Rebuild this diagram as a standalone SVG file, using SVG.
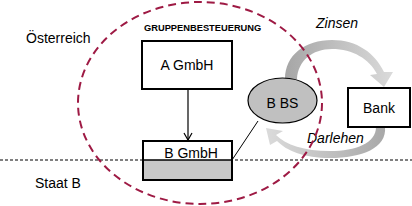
<svg xmlns="http://www.w3.org/2000/svg" width="412" height="206" viewBox="0 0 412 206">
<defs>
<linearGradient id="gTop" x1="285" y1="0" x2="392" y2="0" gradientUnits="userSpaceOnUse">
<stop offset="0" stop-color="#A6A6A6"/><stop offset="1" stop-color="#DADADA"/>
</linearGradient>
<linearGradient id="gBot" x1="264" y1="0" x2="386" y2="0" gradientUnits="userSpaceOnUse">
<stop offset="0" stop-color="#DCDCDC"/><stop offset="1" stop-color="#A8A8A8"/>
</linearGradient>
<marker id="arr" markerWidth="10" markerHeight="10" refX="8" refY="5" orient="auto" markerUnits="userSpaceOnUse">
<path d="M1 1 L8 5 L1 9" fill="none" stroke="#000" stroke-width="1.2"/>
</marker>
</defs>
<style>
text{font-family:"Liberation Sans",Arial,sans-serif;font-size:14px;fill:#000}
.it{font-style:italic}
.box{fill:#fff;stroke:#000;stroke-width:2}
</style>
<rect width="412" height="206" fill="#fff"/>
<line x1="0" y1="160" x2="412" y2="160" stroke="#000" stroke-width="1.2" stroke-dasharray="3 2"/>
<text x="26" y="43">Österreich</text>
<text x="35" y="188">Staat B</text>
<text x="144" y="31" style="font-size:9.3px;font-weight:bold">GRUPPENBESTEUERUNG</text>
<g id="connectors">
<line x1="188" y1="89" x2="188" y2="140" stroke="#000" stroke-width="1.2" marker-end="url(#arr)"/>
<line x1="258" y1="121" x2="232" y2="160" stroke="#000" stroke-width="1"/>
<path d="M285 79 C285 55 305 40 332 40 C357 40 375 53 384 72 L393 72 L384 87 L370 75 L377 74 C369 59 353 49 332 49 C312 49 298 61 297 79 Z" fill="url(#gTop)"/>
<path d="M385 127 C387 148 362 158 330 158 C304 158 287 151 277 141 L270 145 L266 128 L283 131 L276 135 C286 145 304 151 330 151 C356 151 376 143 376 127 Z" fill="url(#gBot)"/>
<text x="316" y="28" class="it">Zinsen</text>
<text x="307" y="143" class="it">Darlehen</text>
</g>
<g id="A_GmbH">
<rect x="142" y="41" width="90" height="48" class="box"/>
<text x="187" y="70" text-anchor="middle">A GmbH</text>
</g>
<g id="B_GmbH">
<rect x="143" y="141" width="89" height="39" class="box"/>
<rect x="144" y="160" width="87" height="19" fill="#C8C8C8"/>
<line x1="143" y1="160" x2="232" y2="160" stroke="#000" stroke-width="1.5"/>
<text x="191" y="158" text-anchor="middle">B GmbH</text>
</g>
<g id="B_BS">
<ellipse cx="282.5" cy="100.5" rx="34.5" ry="22.5" fill="#C0C0C0" stroke="#000" stroke-width="1.2"/>
<text x="282.5" y="108" text-anchor="middle">B BS</text>
</g>
<g id="Bank">
<rect x="348" y="88" width="62" height="39" class="box"/>
<text x="379" y="113" text-anchor="middle">Bank</text>
</g>
<g id="Gruppe">
<ellipse cx="200" cy="103" rx="122" ry="101" fill="none" stroke="#9E1A44" stroke-width="2" stroke-dasharray="8 5"/>
</g>
</svg>
